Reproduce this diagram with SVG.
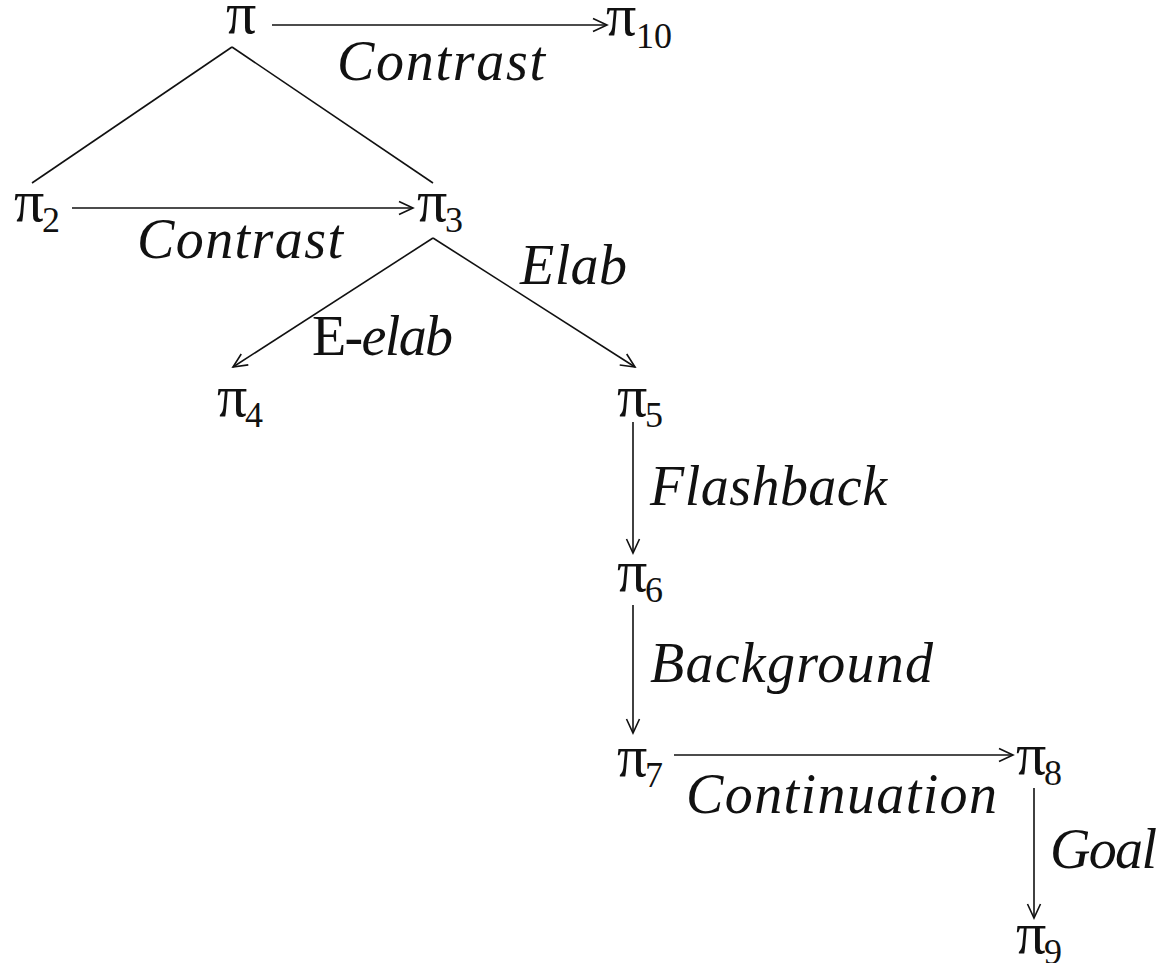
<svg xmlns="http://www.w3.org/2000/svg" width="1161" height="963" viewBox="0 0 1161 963">
<style>
.n{font-family:"Liberation Serif","DejaVu Serif",serif;font-size:60px;fill:#111}
.s{font-size:36px}
.l{font-family:"Liberation Serif","DejaVu Serif",serif;font-style:italic;font-size:56px;fill:#111}
.r{font-style:normal}
.e line{stroke:#111;stroke-width:1.6;fill:none}
.a{marker-end:url(#ah)}
</style>
<defs>
<marker id="ah" viewBox="-16 -9 18 18" refX="0" refY="0" markerWidth="18" markerHeight="18" markerUnits="userSpaceOnUse" orient="auto">
<path d="M-14,-6.5 L0,0 L-14,6.5" fill="none" stroke="#111" stroke-width="1.6"/>
</marker>
</defs>
<rect width="1161" height="963" fill="#fff"/>
<g id="connectors" class="e">
<line class="a" x1="272" y1="25" x2="607" y2="25"/>
<line x1="232" y1="47" x2="32" y2="183"/>
<line x1="232" y1="47" x2="433" y2="183"/>
<line class="a" x1="72" y1="208" x2="413" y2="208"/>
<line class="a" x1="433" y1="238" x2="233" y2="367"/>
<line class="a" x1="433" y1="238" x2="635" y2="367"/>
<line class="a" x1="633" y1="422" x2="633" y2="553"/>
<line class="a" x1="633" y1="605" x2="633" y2="733"/>
<line class="a" x1="674" y1="755" x2="1013" y2="755"/>
<line class="a" x1="1034" y1="788" x2="1034" y2="918"/>
</g>
<g id="labels">
<text class="l" x="337" y="80" textLength="208">Contrast</text>
<text class="l" x="137" y="258" textLength="206">Contrast</text>
<text class="l" x="312" y="355" textLength="141"><tspan class="r">E-</tspan>elab</text>
<text class="l" x="520" y="284" textLength="107">Elab</text>
<text class="l" x="650" y="505" textLength="237">Flashback</text>
<text class="l" x="650" y="682" textLength="283">Background</text>
<text class="l" x="686" y="813" textLength="311">Continuation</text>
<text class="l" x="1050" y="868" textLength="107">Goal</text>
</g>
<g id="pi"><text class="n" x="226" y="33">π</text></g>
<g id="pi10"><text class="n" x="606" y="35">π<tspan class="s" x="636" dy="13">10</tspan></text></g>
<g id="pi2"><text class="n" x="14" y="221">π<tspan class="s" x="42" dy="11">2</tspan></text></g>
<g id="pi3"><text class="n" x="417" y="221">π<tspan class="s" x="445" dy="11">3</tspan></text></g>
<g id="pi4"><text class="n" x="217" y="416">π<tspan class="s" x="245" dy="11">4</tspan></text></g>
<g id="pi5"><text class="n" x="617" y="416">π<tspan class="s" x="645" dy="11">5</tspan></text></g>
<g id="pi6"><text class="n" x="617" y="591">π<tspan class="s" x="645" dy="11">6</tspan></text></g>
<g id="pi7"><text class="n" x="617" y="776">π<tspan class="s" x="645" dy="11">7</tspan></text></g>
<g id="pi8"><text class="n" x="1016" y="774">π<tspan class="s" x="1044" dy="11">8</tspan></text></g>
<g id="pi9"><text class="n" x="1016" y="953">π<tspan class="s" x="1044" dy="11">9</tspan></text></g>
</svg>
